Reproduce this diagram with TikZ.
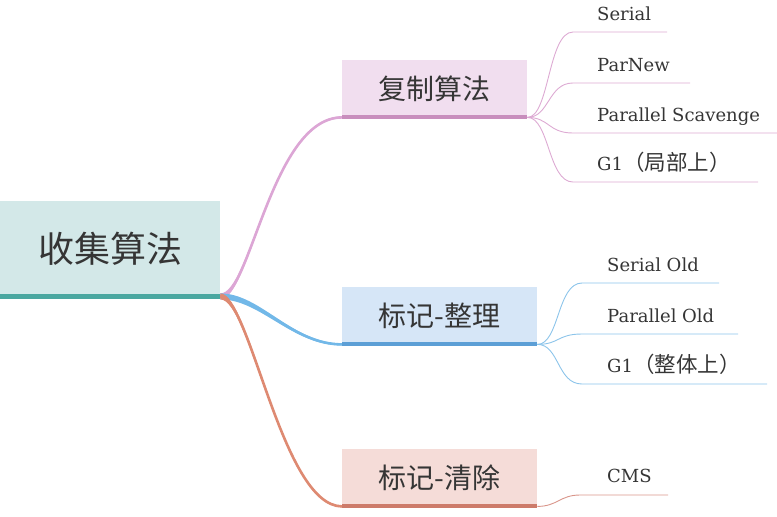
\documentclass[tikz,border=0pt]{standalone}
\usepackage{fontspec}
\setmainfont{DejaVu Serif}
\newfontfamily\cjk{Noto Sans CJK SC}
\newcommand\leafcjk[1]{{\cjk\fontsize{21.5}{24}\selectfont #1}}
\definecolor{inktext}{HTML}{353535}
\definecolor{rootfill}{HTML}{D3E8E8}
\definecolor{rootbar}{HTML}{4AA7A0}
\definecolor{copyfill}{HTML}{F1DEEF}
\definecolor{copybar}{HTML}{C88EBD}
\definecolor{copylink}{HTML}{DCA6D5}
\definecolor{copyleaf}{HTML}{DDAAD3}
\definecolor{compfill}{HTML}{D6E6F7}
\definecolor{compbar}{HTML}{5C9FD6}
\definecolor{complink}{HTML}{72B8E8}
\definecolor{compleaf}{HTML}{8CC4EA}
\definecolor{sweepfill}{HTML}{F5DCD8}
\definecolor{sweepbar}{HTML}{CD7B6A}
\definecolor{sweeplink}{HTML}{DE8A72}
\definecolor{sweepleaf}{HTML}{D9958A}
\begin{document}
\begin{tikzpicture}[x=1pt,y=-1pt,
  rootbox/.style={fill=rootfill, inner sep=0pt, anchor=north west,
    minimum width=220pt, minimum height=95pt, text=inktext,
    font=\cjk\fontsize{36}{40}\selectfont},
  topicbox/.style={inner sep=0pt, anchor=north west, minimum height=57pt,
    text=inktext, font=\cjk\fontsize{28}{32}\selectfont},
  leaf/.style={anchor=base west, inner sep=0pt, text=inktext,
    font=\fontsize{18}{22}\selectfont},
  link/.style={line width=2.6pt, line cap=round},
  leafline/.style={line width=0.9pt}]
  \useasboundingbox (0,0) rectangle (777,517);
  % Root and topics
  \node[rootbox] (root) at (0,201) {收集算法};
  \node[topicbox, fill=copyfill, minimum width=185pt] (copy) at (342,60) {复制算法};
  \node[topicbox, fill=compfill, minimum width=195pt] (comp) at (342,287) {标记-整理};
  \node[topicbox, fill=sweepfill, minimum width=195pt] (sweep) at (342,449) {标记-清除};
  \coordinate (hub) at (root.south east);
  % Tapered links from the root
  \fill[copylink] ([yshift=3pt]hub) .. controls +(30,0) and +(-70,0) .. ([yshift=1pt]copy.south west)
    -- ([yshift=-1pt]copy.south west) .. controls +(-70,0) and +(30,0) .. ([yshift=-3pt]hub) -- cycle;
  \draw[link, copylink] (hub) .. controls +(30,0) and +(-70,0) .. (copy.south west);
  \fill[complink] ([yshift=3pt]hub) .. controls +(40,0) and +(-50,0) .. ([yshift=1pt]comp.south west)
    -- ([yshift=-1pt]comp.south west) .. controls +(-50,0) and +(40,0) .. ([yshift=-3pt]hub) -- cycle;
  \draw[link, complink] (hub) .. controls +(40,0) and +(-50,0) .. (comp.south west);
  \fill[sweeplink] ([yshift=3pt]hub) .. controls +(30,0) and +(-60,0) .. ([yshift=1pt]sweep.south west)
    -- ([yshift=-1pt]sweep.south west) .. controls +(-60,0) and +(30,0) .. ([yshift=-3pt]hub) -- cycle;
  \draw[link, sweeplink] (hub) .. controls +(30,0) and +(-60,0) .. (sweep.south west);
  \draw[rootbar, line width=5pt] (root.south west) -- (root.south east);
  \draw[copybar, line width=4pt] (copy.south west) -- (copy.south east);
  \draw[compbar, line width=4pt] (comp.south west) -- (comp.south east);
  \draw[sweepbar, line width=4pt] (sweep.south west) -- (sweep.south east);
  % Leaves
  \foreach \txt/\ly/\lx [count=\i] in {Serial/32/667, ParNew/83/690,
      Parallel Scavenge/133/777, G1\leafcjk{（局部上）}/182/758}{
    \coordinate (cs\i) at (573,\ly);
    \coordinate (ce\i) at (\lx,\ly);
    \node[leaf] (c\i) at (597,\ly-12) {\txt};
    \draw[leafline, copyleaf] (copy.south east) .. controls +(22,0) and +(-25,0) .. (cs\i) -- (ce\i);
  }
  \foreach \txt/\ly/\lx [count=\i] in {Serial Old/283/719, Parallel Old/334/738,
      G1\leafcjk{（整体上）}/384/767}{
    \coordinate (ms\i) at (582,\ly);
    \coordinate (me\i) at (\lx,\ly);
    \node[leaf] (m\i) at (607,\ly-12) {\txt};
    \draw[leafline, compleaf] (comp.south east) .. controls +(22,0) and +(-25,0) .. (ms\i) -- (me\i);
  }
  \coordinate (ss1) at (580,495);
  \coordinate (se1) at (668,495);
  \node[leaf] (s1) at (607,482) {CMS};
  \draw[leafline, sweepleaf] (sweep.south east) .. controls +(20,0) and +(-20,0) .. (ss1) -- (se1);
\end{tikzpicture}
\end{document}
